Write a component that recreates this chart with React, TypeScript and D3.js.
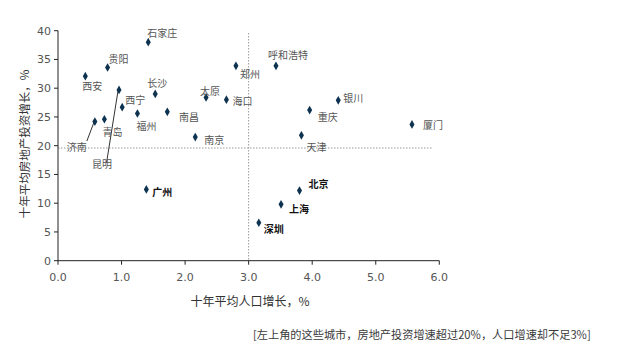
import React from "react";
import * as d3 from "d3";

const cities = ["石家庄","贵阳","西安","昆明","长沙","西宁","福州","青岛","济南","南昌","南京","太原","海口","郑州","呼和浩特","天津","重庆","银川","厦门","广州","北京","上海","深圳"];
const popGrowth = [1.42,0.78,0.43,0.96,1.53,1.01,1.25,0.73,0.58,1.72,2.16,2.33,2.65,2.80,3.43,3.83,3.96,4.41,5.57,1.39,3.80,3.51,3.16];
const investGrowth = [38.0,33.6,32.1,29.7,29.0,26.7,25.6,24.6,24.2,25.9,21.5,28.4,28.0,33.9,33.9,21.8,26.2,27.9,23.7,12.4,12.2,9.8,6.6];
const boldCities = ["广州","北京","上海","深圳"];
const xTicks = [0,1,2,3,4,5,6];
const yTicks = [0,5,10,15,20,25,30,35,40];
const xTitle = "十年平均人口增长，%";
const yTitle = "十年平均房地产投资增长，%";
const caption = "[左上角的这些城市，房地产投资增速超过20%，人口增速却不足3%]";
const refX = 3.0;
const refY = 19.6;

// label placement offsets (px) relative to point
const labelOffsets: Record<string, [number, number]> = {
  "石家庄": [-1, -9], "贵阳": [1, -8], "西安": [-3, 10.5], "昆明": [-27, 75],
  "长沙": [-8, -10], "西宁": [3, -6.5], "福州": [-1, 12.7], "青岛": [-2, 13],
  "济南": [-28, 25.7], "南昌": [11.7, 5.3], "南京": [9, 3.5], "太原": [-6, -6],
  "海口": [6, 2], "郑州": [4, 9], "呼和浩特": [-8, -10], "天津": [5, 12],
  "重庆": [8, 7], "银川": [5, -1.5], "厦门": [11, 1], "广州": [6, 3],
  "北京": [9, -6], "上海": [8, 5], "深圳": [5, 7],
};
const leaders: Record<string, [number, number]> = {
  "济南": [-8, 19.5],
  "昆明": [-12.5, 73],
};

export default function App() {
  const W = 617, H = 359;
  const x = d3.scaleLinear().domain([0, 6]).range([58, 439.3]);
  const y = d3.scaleLinear().domain([0, 40]).range([260.7, 30.7]);
  const diamond = d3.symbol().type(d3.symbolDiamond).size(22)();
  const tickFont = "'DejaVu Sans', Verdana, sans-serif";
  const cjk = "'Noto Sans CJK SC', sans-serif";
  return (
    <svg width={W} height={H} style={{ position: "absolute", left: 0, top: 0, background: "#fff" }}>
      {/* reference lines */}
      <line x1={x(refX)} x2={x(refX)} y1={y(39.6)} y2={y(0)} stroke="#999" strokeDasharray="1.5,1.5" strokeWidth={1} />
      <line x1={x(0)} x2={x(5.9)} y1={y(refY)} y2={y(refY)} stroke="#999" strokeDasharray="1.5,1.5" strokeWidth={1} />
      {/* axes */}
      <line x1={x(0)} x2={x(0)} y1={y(40)} y2={y(0)} stroke="#222" strokeWidth={1} />
      <line x1={x(0)} x2={x(6)} y1={y(0)} y2={y(0)} stroke="#222" strokeWidth={1} />
      {yTicks.map((t) => (
        <g key={"y" + t}>
          <line x1={x(0) - 4} x2={x(0)} y1={y(t)} y2={y(t)} stroke="#222" />
          <text x={x(0) - 7} y={y(t)} dy="0.35em" textAnchor="end" fontFamily={tickFont} fontSize={11} fill="#555">{t}</text>
        </g>
      ))}
      {xTicks.map((t) => (
        <g key={"x" + t}>
          <line x1={x(t)} x2={x(t)} y1={y(0)} y2={y(0) + 4} stroke="#222" />
          <text x={x(t)} y={y(0) + 16} dy="0.35em" textAnchor="middle" fontFamily={tickFont} fontSize={11} fill="#555">{d3.format(".1f")(t)}</text>
        </g>
      ))}
      {/* leaders */}
      {cities.map((c, i) => {
        const l = leaders[c];
        if (!l) return null;
        const px = x(popGrowth[i]), py = y(investGrowth[i]);
        return <line key={"l" + c} x1={px - 1} y1={py + 1} x2={px + l[0]} y2={py + l[1]} stroke="#333" strokeWidth={1} />;
      })}
      {/* points */}
      {cities.map((c, i) => (
        <path key={"p" + c} d={diamond} transform={`translate(${x(popGrowth[i])},${y(investGrowth[i])})`} fill="#0e3350" />
      ))}
      {/* labels */}
      {cities.map((c, i) => {
        const o = labelOffsets[c] || [5, 0];
        const bold = boldCities.includes(c);
        return (
          <text key={"t" + c} x={x(popGrowth[i]) + o[0]} y={y(investGrowth[i]) + o[1]} dy="0.35em"
            fontFamily={cjk} fontSize={10} fill={bold ? "#111" : "#555"} fontWeight={bold ? "bold" : "normal"}>{c}</text>
        );
      })}
      {/* titles */}
      <text x={250} y={302} dy="0.35em" textAnchor="middle" fontFamily={cjk} fontSize={12} fill="#333">{xTitle}</text>
      <text transform="translate(25,144) rotate(-90)" dy="0.35em" textAnchor="middle" fontFamily={cjk} fontSize={11.5} fill="#333">{yTitle}</text>
      <text x={253} y={335} dy="0.35em" fontFamily={cjk} fontSize={11.2} fill="#3a3a3a">{caption}</text>
    </svg>
  );
}
